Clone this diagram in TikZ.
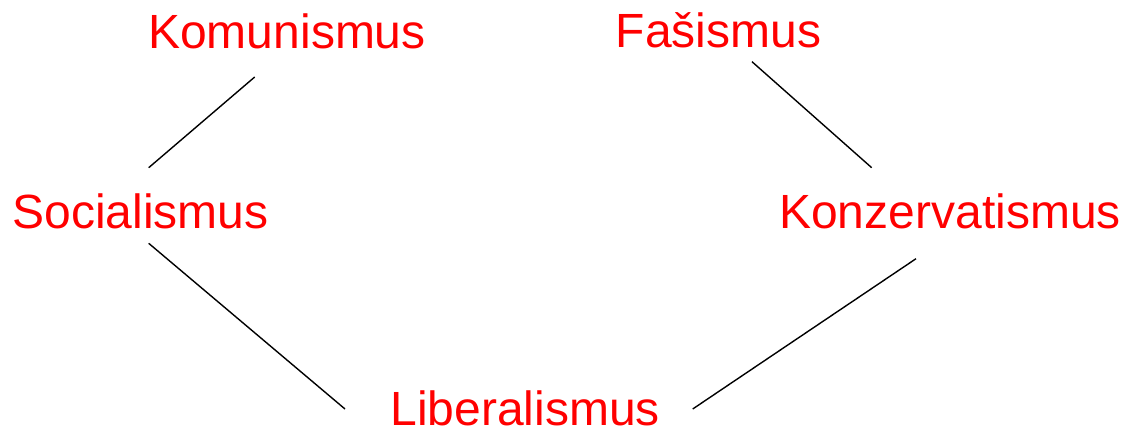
\documentclass[tikz,border=0pt]{standalone}
\usepackage{fontspec}
\setmainfont{Liberation Sans}
\begin{document}
\begin{tikzpicture}[x=1pt,y=-1pt,
  term/.style={text=red,inner sep=0pt,anchor=base,font=\fontsize{48}{56}\selectfont},
  link/.style={draw=black,line width=1.4pt}]
\useasboundingbox (0,0) rectangle (1128,429);
\node[term] (kom) at (287,48.3) {Komunismus};
\node[term] (fas) at (718.5,47.7) {Fašismus};
\node[term] (soc) at (140.5,228) {Socialismus};
\node[term] (kon) at (950,228) {Konzervatismus};
\node[term] (lib) at (525.3,425) {Liberalismus};
\coordinate (komS) at (254.7,77);
\coordinate (socN) at (148.7,167.7);
\coordinate (socS) at (148.7,243.3);
\coordinate (libW) at (345,409);
\coordinate (fasS) at (752,61.7);
\coordinate (konN) at (871.7,167.7);
\coordinate (konS) at (916,258.7);
\coordinate (libE) at (692.7,409);
\draw[link] (komS) -- (socN);
\draw[link] (socS) -- (libW);
\draw[link] (fasS) -- (konN);
\draw[link] (konS) -- (libE);
\end{tikzpicture}
\end{document}
